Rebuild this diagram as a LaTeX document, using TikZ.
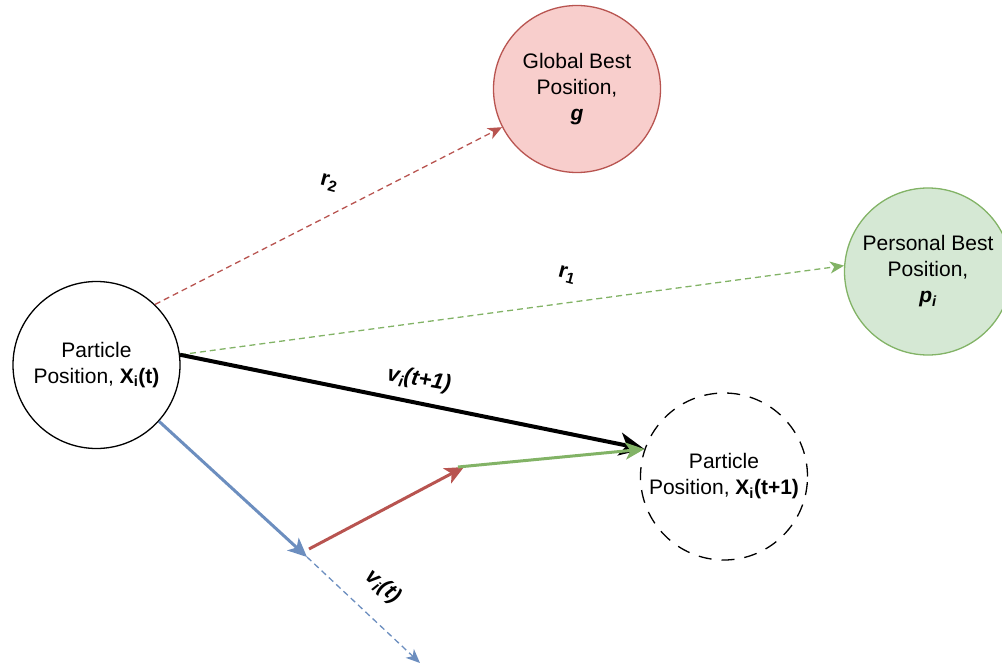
\documentclass[tikz,border=0pt]{standalone}
\usepackage{fontspec}
\setmainfont{Liberation Sans}
\usetikzlibrary{arrows.meta, positioning}
\definecolor{psored}{HTML}{B85450}
\definecolor{redfill}{HTML}{F8CECC}
\definecolor{psogreen}{HTML}{82B366}
\definecolor{greenfill}{HTML}{D5E8D4}
\definecolor{psoblue}{HTML}{6C8EBF}
\tikzset{
    posnode/.style={
        circle,
        draw=black,
        fill=white,
        line width=1.3pt,
        minimum size=167pt,
        inner sep=0pt,
        align=center,
        font=\fontsize{21}{26}\selectfont
    },
    best/.style 2 args={
        posnode,
        draw=#1,
        fill=#2
    },
    guide/.style={
        -{Stealth[length=14pt, width=12pt, inset=4pt]},
        line width=1.3pt,
        dash pattern=on 6pt off 4pt
    },
    move/.style={
        -{Stealth[length=19pt, width=17pt, inset=5pt]},
        line width=3pt
    },
    lbl/.style={
        inner sep=0pt,
        font=\fontsize{22}{26}\selectfont
    }
}
\begin{document}
\begin{tikzpicture}[x=1pt, y=-1pt]
        \useasboundingbox (0,0) rectangle (1002,666);

        \node[posnode] (xt) at (96.5,365) {Particle\\Position, \textbf{X\textsubscript{i}(t)}};
        \node[best={psored}{redfill}] (gb) at (577,89) {Global Best\\Position,\\\textbf{\textit{g}}};
        \node[best={psogreen}{greenfill}] (pb) at (928,271.5) {Personal Best\\Position,\\\textbf{\textit{p\textsubscript{i}}}};
        \node[posnode, dash pattern=on 13pt off 10pt] (xn) at (724,476.5) {Particle\\Position, \textbf{X\textsubscript{i}(t+1)}};

        \coordinate (vt) at (307,557);
        \coordinate (rs) at (309,549);
        \coordinate (cg) at (464,467);
        \coordinate (gs) at (458,467);
        \coordinate (vend) at (420,663);

        % pulls towards the best positions
        \draw[guide, psored] (xt.46) -- (gb.207);
        \draw[guide, psogreen] (xt.7) -- (pb.176);

        % velocity update
        \draw[move, psoblue] (xt.-42) -- (vt);
        \draw[guide, psoblue] (vt) -- (vend);
        \draw[move, psored] (rs) -- (cg);
        \draw[move, black, line width=4pt, -{Stealth[length=25pt, width=23pt, inset=7pt]}] (xt.7) -- (xn.161);
        \draw[move, psogreen] (gs) -- (xn.161);

        \node[lbl, rotate=-15] (r2) at (329,183) {\textbf{r\textsubscript{2}}};
        \node[lbl, rotate=-15] (r1) at (567,275) {\textbf{r\textsubscript{1}}};
        \node[lbl, rotate=-10] (vnext) at (419,380) {\textbf{\textit{v\textsubscript{i}(t+1)}}};
        \node[lbl, rotate=-40] (vnow) at (383,587) {\textbf{\textit{v\textsubscript{i}(t)}}};
    \end{tikzpicture}
\end{document}
